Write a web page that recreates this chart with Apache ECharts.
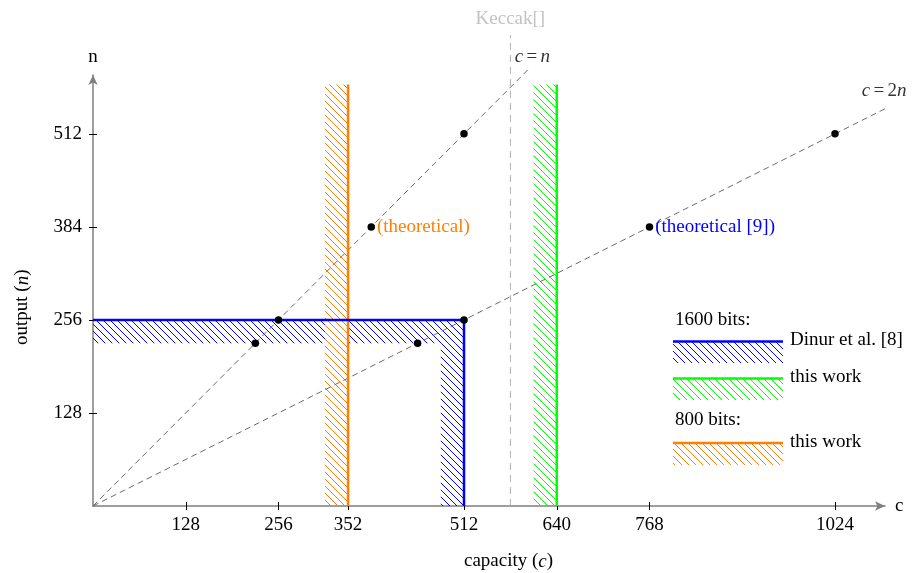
<!DOCTYPE html>
<html><head><meta charset="utf-8">
<script src="https://cdn.jsdelivr.net/npm/echarts@6/dist/echarts.min.js"></script>
<style>html,body{margin:0;padding:0;background:#fff}#c{width:918px;height:573px}</style>
</head><body><div id="c"></div>
<script>
// ---- data ----
const xTicks = [128, 256, 352, 512, 640, 768, 1024];
const yTicks = [128, 256, 384, 512];
const lineCeqN = [[0, 0], [600, 600]];
const lineCeq2N = [[0, 0], [1094, 547]];
const keccakLine = [[576, 0], [576, 648]];
const points = [[224, 224], [256, 256], [512, 512], [448, 224], [512, 256], [1024, 512]];
const theoPoints = [[384, 384], [768, 384]];
const theoLabels = ['(theoretical)', '(theoretical [9])'];
const blueHatch = [[0, 224, 512, 256], [480, 0, 512, 224]];
const blueLine = [[0, 256], [512, 256], [512, 0]];
const greenHatch = [[608, 0, 640, 580]];
const greenLine = [[640, 0], [640, 580]];
const orangeHatch = [[320, 0, 352, 580]];
const orangeLine = [[352, 0], [352, 580]];
const lineLabels = [[600, 600, 'c=n'], [1094, 547, 'c=2n']];
const keccakLabel = [[576, 648, 'Keccak[]']];

const FONT = 'Liberation Serif';
const FS = 19;
const BLUE = '#0000ff', GREEN = '#00ff00', ORANGE = '#ff8000';

function hatch(color) {
  const s = 7, c = document.createElement('canvas');
  c.width = s; c.height = s;
  const g = c.getContext('2d');
  g.strokeStyle = color; g.lineWidth = 1;
  g.beginPath();
  g.moveTo(-1, -1); g.lineTo(s + 1, s + 1);
  g.moveTo(-1, s - 1); g.lineTo(1, s + 1);
  g.moveTo(s - 1, -1); g.lineTo(s + 1, 1);
  g.stroke();
  return { image: c, repeat: 'repeat' };
}
const patB = hatch(BLUE), patG = hatch(GREEN), patO = hatch(ORANGE);

function rectRender(pat) {
  return function (params, api) {
    const p0 = api.coord([api.value(0), api.value(1)]);
    const p1 = api.coord([api.value(2), api.value(3)]);
    return {
      type: 'rect',
      shape: { x: Math.min(p0[0], p1[0]), y: Math.min(p0[1], p1[1]),
               width: Math.abs(p1[0] - p0[0]), height: Math.abs(p1[1] - p0[1]) },
      style: { fill: pat }
    };
  };
}

const rich = { i: { fontStyle: 'italic', fontFamily: FONT, fontSize: FS, color: '#000' },
               r: { fontFamily: FONT, fontSize: FS, color: '#000' } };

const chart = echarts.init(document.getElementById('c'), null, { renderer: 'canvas' });
const axisLineStyle = { color: '#7f7f7f', width: 1.5 };
const labelStyle = { color: '#000', fontFamily: FONT, fontSize: FS };
const fmt = v => String(v);

chart.setOption({
  animation: false,
  grid: { left: 93, right: 33, top: 75, bottom: 67, outerBoundsMode: 'none' },
  xAxis: [
    { type: 'value', min: 0, max: 1093, position: 'bottom',
      axisLine: { show: true, onZero: false, lineStyle: axisLineStyle, symbol: ['none', 'arrow'], symbolSize: [7, 10] },
      splitLine: { show: false },
      axisTick: { show: true, customValues: xTicks, length: 4, lineStyle: { color: '#000', width: 1 } },
      axisLabel: { customValues: xTicks, margin: 10, formatter: fmt, ...labelStyle },
      name: 'c', nameLocation: 'end', nameGap: 10, nameTextStyle: { ...labelStyle } },
    { type: 'value', min: 0, max: 1093, position: 'bottom', offset: -4,
      axisLine: { show: true, onZero: false, lineStyle: { color: 'rgba(0,0,0,0)' } }, splitLine: { show: false },
      axisTick: { show: true, inside: false, customValues: xTicks, length: 4, lineStyle: { color: '#000', width: 1 } },
      axisLabel: { show: true, color: 'rgba(0,0,0,0)', customValues: xTicks } }
  ],
  yAxis: [
    { type: 'value', min: 0, max: 593, position: 'left',
      axisLine: { show: true, onZero: false, lineStyle: axisLineStyle, symbol: ['none', 'arrow'], symbolSize: [7, 10] },
      splitLine: { show: false },
      axisTick: { show: true, customValues: yTicks, length: 4, lineStyle: { color: '#000', width: 1 } },
      axisLabel: { customValues: yTicks, margin: 11, formatter: fmt, ...labelStyle },
      name: 'n', nameLocation: 'end', nameGap: 8, nameTextStyle: { ...labelStyle } },
    { type: 'value', min: 0, max: 593, position: 'left', offset: -4,
      axisLine: { show: true, onZero: false, lineStyle: { color: 'rgba(0,0,0,0)' } }, splitLine: { show: false },
      axisTick: { show: true, inside: false, customValues: yTicks, length: 4, lineStyle: { color: '#000', width: 1 } },
      axisLabel: { show: true, color: 'rgba(0,0,0,0)', customValues: yTicks } }
  ],
  series: [
    { type: 'custom', renderItem: rectRender(patB), data: blueHatch, encode: { x: [0, 2], y: [1, 3] }, z: 1, silent: true, clip: false },
    { type: 'custom', renderItem: rectRender(patG), data: greenHatch, encode: { x: [0, 2], y: [1, 3] }, z: 1, silent: true, clip: false },
    { type: 'custom', renderItem: rectRender(patO), data: orangeHatch, encode: { x: [0, 2], y: [1, 3] }, z: 1, silent: true, clip: false },
    { type: 'line', data: lineCeqN, showSymbol: false, clip: false, lineStyle: { color: '#6a6a6a', width: 1, type: [6, 4] }, z: 2, silent: true },
    { type: 'line', data: lineCeq2N, showSymbol: false, clip: false, lineStyle: { color: '#6a6a6a', width: 1, type: [6, 4] }, z: 2, silent: true },
    { type: 'line', data: keccakLine, showSymbol: false, clip: false, lineStyle: { color: '#b0b0b0', width: 1, type: [7, 5] }, z: 2, silent: true },
    { type: 'line', data: orangeLine, showSymbol: false, clip: false, lineStyle: { color: ORANGE, width: 2.5 }, z: 3, silent: true },
    { type: 'line', data: greenLine, showSymbol: false, clip: false, lineStyle: { color: GREEN, width: 2.5 }, z: 3, silent: true },
    { type: 'line', data: blueLine, showSymbol: false, clip: false, lineStyle: { color: BLUE, width: 2.5, join: 'miter' }, z: 3, silent: true },
    { type: 'scatter', data: points, symbolSize: 7.5, itemStyle: { color: '#000', opacity: 1 }, z: 5, silent: true },
    { type: 'scatter', symbolSize: 7.5, itemStyle: { color: '#000', opacity: 1 }, z: 5, silent: true,
      data: theoPoints.map((p, i) => ({ value: p,
        label: { show: true, position: 'right', distance: 2, formatter: theoLabels[i],
                 color: i === 0 ? ORANGE : BLUE, fontFamily: FONT, fontSize: FS } })) },
    { type: 'scatter', symbolSize: 2, clip: false, itemStyle: { color: 'rgba(0,0,0,0)' }, z: 5, silent: true,
      xAxisIndex: 1, yAxisIndex: 1,
      data: lineLabels.map((p, i) => ({ value: [p[0], p[1]],
        label: { show: true, position: 'right', distance: 0,
                 offset: i === 0 ? [-14, -13] : [-25, -17],
                 formatter: i === 0 ? '{i|c} {r|=} {i|n}' : '{i|c} {r|=} {r|2}{i|n}', rich: rich } })) },
    { type: 'scatter', symbolSize: 2, clip: false, itemStyle: { color: 'rgba(0,0,0,0)' }, z: 5, silent: true,
      xAxisIndex: 1, yAxisIndex: 1,
      data: keccakLabel.map(p => ({ value: [p[0], p[1]],
        label: { show: true, position: 'top', distance: 6, formatter: p[2],
                 color: '#b3b3b3', fontFamily: FONT, fontSize: FS } })) }
  ],
  graphic: [
    { type: 'text', left: 464, top: 552, style: { text: '{r|capacity (}{i|c}{r|)}', rich: rich } },
    { type: 'text', x: 13, y: 345, rotation: Math.PI / 2, style: { text: '{r|output (}{i|n}{r|)}', rich: rich } },
    // legend
    { type: 'text', left: 675, top: 311, style: { text: '1600 bits:', fill: '#000', font: FS + 'px "' + FONT + '"' } },
    { type: 'rect', shape: { x: 673, y: 342, width: 110, height: 21 }, style: { fill: patB } },
    { type: 'line', shape: { x1: 673, y1: 341.5, x2: 783, y2: 341.5 }, style: { stroke: BLUE, lineWidth: 2.5 } },
    { type: 'text', left: 790, top: 331, style: { text: 'Dinur et al. [8]', fill: '#000', font: FS + 'px "' + FONT + '"' } },
    { type: 'rect', shape: { x: 673, y: 379, width: 110, height: 21 }, style: { fill: patG } },
    { type: 'line', shape: { x1: 673, y1: 378.5, x2: 783, y2: 378.5 }, style: { stroke: GREEN, lineWidth: 2.5 } },
    { type: 'text', left: 790, top: 368, style: { text: 'this work', fill: '#000', font: FS + 'px "' + FONT + '"' } },
    { type: 'text', left: 675, top: 411, style: { text: '800 bits:', fill: '#000', font: FS + 'px "' + FONT + '"' } },
    { type: 'rect', shape: { x: 673, y: 444, width: 110, height: 21 }, style: { fill: patO } },
    { type: 'line', shape: { x1: 673, y1: 443, x2: 783, y2: 443 }, style: { stroke: ORANGE, lineWidth: 2.5 } },
    { type: 'text', left: 790, top: 433, style: { text: 'this work', fill: '#000', font: FS + 'px "' + FONT + '"' } }
  ]
});
</script>
</body></html>
